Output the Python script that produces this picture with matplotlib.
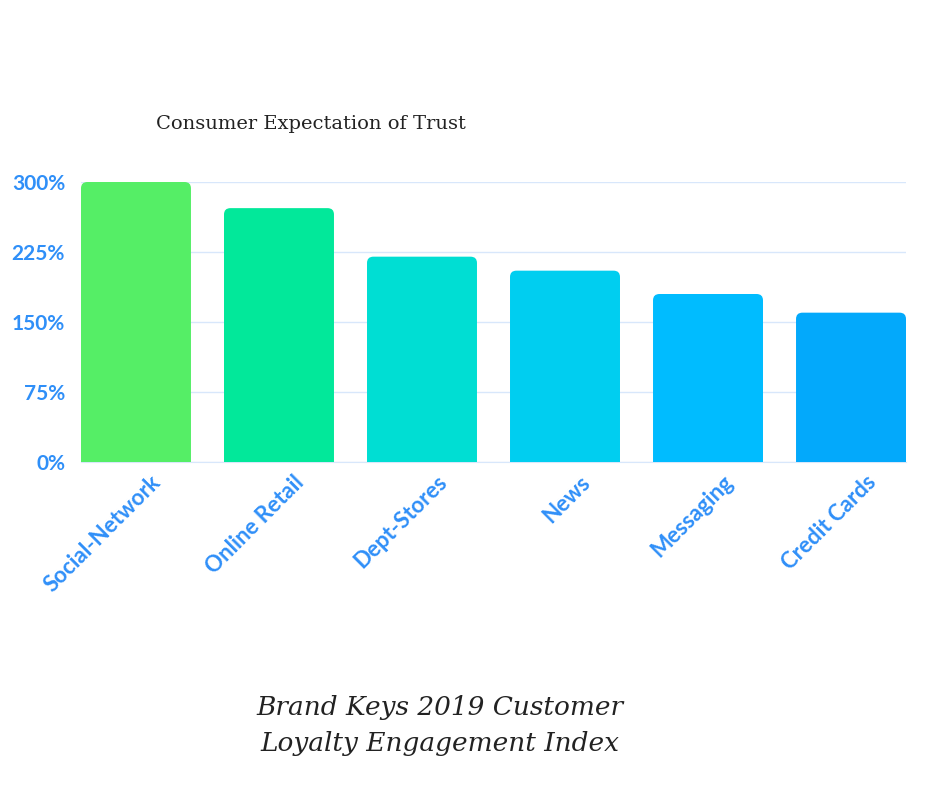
import matplotlib
matplotlib.use("Agg")
import matplotlib.pyplot as plt
import matplotlib.transforms as mtransforms
from matplotlib.patches import FancyBboxPatch

# Данные графика
categories = ["Social-Network", "Online Retail", "Dept-Stores", "News", "Messaging", "Credit Cards"]
values = [300, 272, 220, 205, 180, 160]
colors = ["#55EE66", "#02E89A", "#00DED3", "#00CEF0", "#00BCFF", "#03A9FB"]
yticks = [0, 75, 150, 225, 300]
ytick_labels = ["0%", "75%", "150%", "225%", "300%"]

label_color = "#2F8FF8"
grid_color = "#D8E7FB"
bar_w = 0.769

fig = plt.figure(figsize=(9.4, 7.88), dpi=100)
ax = fig.add_axes([81 / 940, 1 - 462 / 788, 825 / 940, 280 / 788])

bars = ax.bar(range(len(categories)), values, width=bar_w, color=colors)

# скругляем верхние углы столбцов
for b, c in zip(bars, colors):
    b.set_visible(False)
    p = FancyBboxPatch((b.get_x(), -20), b.get_width(), b.get_height() + 20,
                       boxstyle="round,pad=0,rounding_size=0.045",
                       mutation_aspect=150, facecolor=c, edgecolor="none",
                       zorder=3, clip_on=True)
    ax.add_patch(p)

ax.set_xlim(-bar_w / 2, len(categories) - 1 + bar_w / 2)
ax.set_ylim(0, 300)
ax.set_yticks(yticks)
ax.set_yticklabels(ytick_labels)
ax.set_xticks(range(len(categories)))
ax.set_xticklabels(categories, rotation=45, ha="right", rotation_mode="anchor")

ax.grid(axis="y", color=grid_color, linewidth=1, zorder=0)
ax.set_axisbelow(True)
for s in ["top", "right", "left"]:
    ax.spines[s].set_visible(False)
ax.spines["bottom"].set_color(grid_color)
ax.tick_params(length=0, labelcolor=label_color)
ax.tick_params(axis="y", pad=11.5, labelsize=15)
ax.tick_params(axis="x", pad=7, labelsize=16)
for t in ax.get_xticklabels() + ax.get_yticklabels():
    t.set_fontfamily("Lato")
    t.set_fontweight("bold")

# сдвигаем подписи оси X вправо
shift = mtransforms.ScaledTranslation(14 / 100, 0, fig.dpi_scale_trans)
for t in ax.get_xticklabels():
    t.set_transform(t.get_transform() + shift)

fig.text(156 / 940, 1 - 124 / 788, "Consumer Expectation of Trust",
         fontsize=14, family="DejaVu Serif", color="#222222", va="center")
fig.text(440 / 940, 1 - 725 / 788, "Brand Keys 2019 Customer\nLoyalty Engagement Index",
         fontsize=19, family="DejaVu Serif", style="italic", color="#222222",
         ha="center", va="center", linespacing=1.55)

fig.savefig("out.png", dpi=100)
